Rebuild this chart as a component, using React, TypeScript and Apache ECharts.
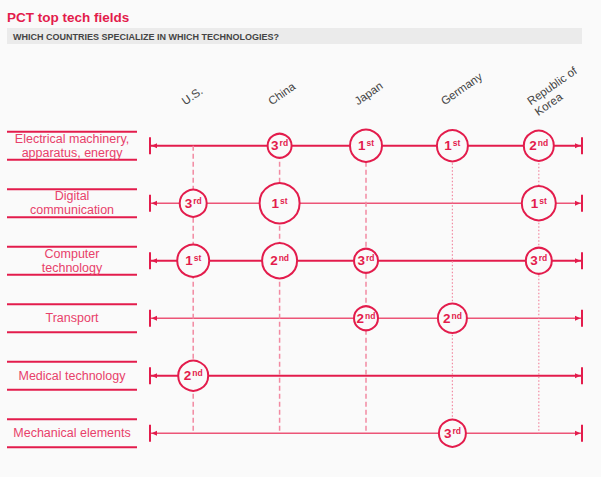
import React, { useEffect, useRef } from "react";
import * as echarts from "echarts";

const countries = ["U.S.", "China", "Japan", "Germany", "Republic of\nKorea"];
const fields = [
  "Electrical machinery,\napparatus, energy",
  "Digital\ncommunication",
  "Computer\ntechnology",
  "Transport",
  "Medical technology",
  "Mechanical elements",
];
// [countryIndex, fieldIndex, rank, circle weight]
const rankings: [number, number, number, number][] = [
  [1, 0, 3, 24], [2, 0, 1, 32], [3, 0, 1, 31], [4, 0, 2, 30],
  [0, 1, 3, 27], [1, 1, 1, 40], [4, 1, 1, 34],
  [0, 2, 1, 32], [1, 2, 2, 35], [2, 2, 3, 24], [4, 2, 3, 26],
  [2, 3, 2, 24], [3, 3, 2, 29],
  [0, 4, 2, 30],
  [3, 5, 3, 27],
];
const suffixes: Record<number, string> = { 1: "st", 2: "nd", 3: "rd" };

const RED = "#e31c4c";
const RED_LIGHT = "#ec5577";
const BG = "#fafafa";
const FONT = "'Liberation Sans', Arial, sans-serif";
const rowLineWidths = [2, 1.3, 2, 1.3, 2, 1.3];
const colDash = [[5, 3], [5, 3], [5, 3], [1.5, 2], [1.5, 2]];
const colWidth = [1.5, 1.5, 1.5, 1.2, 1.2];

export default function App() {
  const ref = useRef<HTMLDivElement>(null);
  useEffect(() => {
    if (!ref.current) return;
    const chart = echarts.init(ref.current, undefined, { renderer: "svg" });
    const option: any = {
      animation: false,
      backgroundColor: BG,
      title: {
        text: "PCT top tech fields",
        left: 2,
        top: 5,
        textStyle: { color: RED, fontSize: 13.5, fontWeight: "bold", fontFamily: FONT },
      },
      graphic: [
        { type: "rect", shape: { x: 7, y: 28, width: 575, height: 16 }, style: { fill: "#ebebeb" }, silent: true },
        {
          type: "text",
          x: 13,
          y: 36.5,
          style: {
            text: "WHICH COUNTRIES SPECIALIZE IN WHICH TECHNOLOGIES?",
            fill: "#444",
            font: `bold 9px ${FONT}`,
            verticalAlign: "middle",
          },
        },
      ],
      grid: { left: 150, right: 19, top: 117, bottom: 15 },
      xAxis: { type: "category", data: countries, show: false },
      yAxis: { type: "category", data: fields, inverse: true, show: false },
      series: [
        {
          type: "custom",
          z: 1,
          silent: true,
          data: fields.map((_, i) => [0, i]),
          renderItem: (params: any, api: any) => {
            const i = api.value(1);
            const y = api.coord([0, i])[1];
            const cs = params.coordSys;
            const l = cs.x;
            const r = cs.x + cs.width;
            const lw = rowLineWidths[i];
            const col = lw > 1.5 ? RED : RED_LIGHT;
            return {
              type: "group",
              children: [
                { type: "line", shape: { x1: l, y1: y, x2: r, y2: y }, style: { stroke: col, lineWidth: lw } },
                { type: "line", shape: { x1: l, y1: y - 8.5, x2: l, y2: y + 8.5 }, style: { stroke: RED, lineWidth: 2 } },
                { type: "line", shape: { x1: r, y1: y - 8.5, x2: r, y2: y + 8.5 }, style: { stroke: RED, lineWidth: 2 } },
                { type: "polygon", shape: { points: [[l + 1.5, y], [l + 7, y - 2.5], [l + 7, y + 2.5]] }, style: { fill: RED } },
                { type: "polygon", shape: { points: [[r - 1.5, y], [r - 7, y - 2.5], [r - 7, y + 2.5]] }, style: { fill: RED } },
                { type: "line", shape: { x1: 7, y1: y - 14, x2: 137, y2: y - 14 }, style: { stroke: RED, lineWidth: 2 } },
                { type: "line", shape: { x1: 7, y1: y + 14, x2: 137, y2: y + 14 }, style: { stroke: RED, lineWidth: 2 } },
                {
                  type: "text",
                  x: 72,
                  y: y,
                  style: {
                    text: fields[i],
                    fill: "#e8416a",
                    font: `12.5px ${FONT}`,
                    lineHeight: 14,
                    align: "center",
                    verticalAlign: "middle",
                  },
                },
              ],
            };
          },
        },
        {
          type: "custom",
          z: 2,
          silent: true,
          data: countries.map((_, i) => [i, 0]),
          renderItem: (params: any, api: any) => {
            const i = api.value(0);
            const top = api.coord([i, 0]);
            const bottom = api.coord([i, fields.length - 1]);
            const x = top[0];
            const ang = (35 * Math.PI) / 180;
            return {
              type: "group",
              children: [
                {
                  type: "line",
                  shape: { x1: x, y1: top[1], x2: x, y2: bottom[1] },
                  style: { stroke: "#f28aa2", lineWidth: colWidth[i], lineDash: colDash[i] },
                },
                {
                  type: "text",
                  x: x - 14,
                  y: 97,
                  rotation: ang,
                  style: {
                    text: countries[i],
                    fill: "#444",
                    font: `11.5px ${FONT}`,
                    lineHeight: 13,
                    align: "left",
                    verticalAlign: "top",
                  },
                },
              ],
            };
          },
        },
        {
          type: "scatter",
          z: 3,
          data: rankings.map((d) => d),
          symbol: "circle",
          symbolSize: (v: number[]) => v[3],
          itemStyle: { color: BG, borderColor: RED, borderWidth: 2, opacity: 1 },
          label: {
            show: true,
            position: "inside",
            formatter: (p: any) => `{n|${p.value[2]}}{s|${suffixes[p.value[2]]}}`,
            rich: {
              n: { fontSize: 13.5, fontWeight: "bold", color: RED, fontFamily: FONT },
              s: { fontSize: 8.5, fontWeight: "bold", color: RED, verticalAlign: "bottom", padding: [0, 0, 5, 1], fontFamily: FONT },
            },
          },
          emphasis: { disabled: true },
        },
      ],
    };
    chart.setOption(option);
    return () => chart.dispose();
  }, []);
  return (
    <div
      ref={ref}
      style={{ position: "fixed", left: 0, top: 0, width: 601, height: 477 }}
    />
  );
}
